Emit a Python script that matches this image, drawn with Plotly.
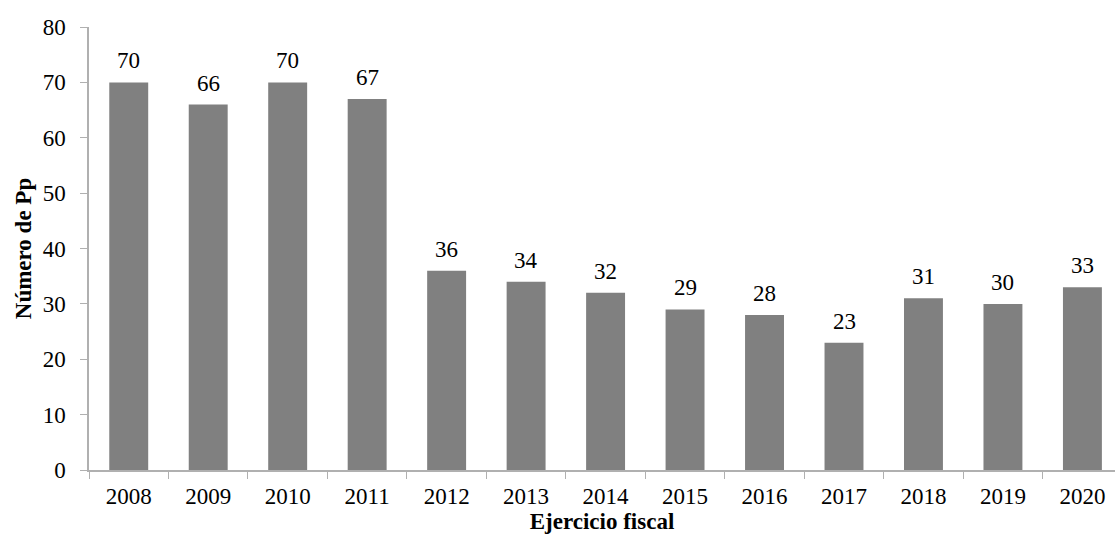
import plotly.graph_objects as go

years = ["2008", "2009", "2010", "2011", "2012", "2013", "2014", "2015", "2016", "2017", "2018", "2019", "2020"]
values = [70, 66, 70, 67, 36, 34, 32, 29, 28, 23, 31, 30, 33]

font = "Liberation Serif"

fig = go.Figure(go.Bar(
    x=years, y=values, width=0.49,
    marker=dict(color="#808080", line=dict(width=0)),
))

for i, yv in enumerate(values):
    fig.add_annotation(x=i, y=yv, xref="x", yref="y", text=str(yv), showarrow=False,
                       yanchor="bottom", yshift=7,
                       font=dict(family=font, size=23, color="#000"))

fig.update_layout(
    width=1115, height=543,
    margin=dict(l=89, r=0, t=27, b=73),
    plot_bgcolor="white", paper_bgcolor="white",
    showlegend=False,
    font=dict(family=font, size=23, color="#000"),
    xaxis=dict(
        type="category", range=[-0.5, 12.41],
        showline=True, linecolor="#b0b0b0", linewidth=1.5,
        ticks="outside", tickson="boundaries", ticklen=7, tickcolor="#b0b0b0",
        showgrid=False, ticklabelstandoff=5,
        tickfont=dict(family=font, size=23),
        title=dict(text="<b>Ejercicio fiscal</b>", standoff=3,
                   font=dict(family=font, size=23)),
    ),
    yaxis=dict(
        range=[0, 80], dtick=10,
        showline=True, linecolor="#b0b0b0", linewidth=1.5,
        ticks="outside", ticklen=7, tickcolor="#b0b0b0",
        showgrid=False, zeroline=False, ticklabelstandoff=10,
        tickfont=dict(family=font, size=23),
        title=dict(text="<b>Número de Pp</b>", standoff=5,
                   font=dict(family=font, size=23)),
    ),
)

fig.write_html("out.html")
